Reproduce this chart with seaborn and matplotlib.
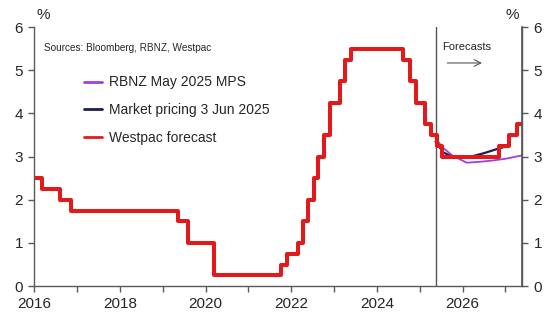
import matplotlib
matplotlib.use("Agg")
import matplotlib.pyplot as plt
import seaborn as sns
import pandas as pd

sns.set_theme(style="white")
plt.rcParams["font.family"] = ["Liberation Sans", "DejaVu Sans"]

# OCR history and Westpac forecast (decimal year, % level) — step series
ocr_dates = [2016.00, 2016.19, 2016.61, 2016.86, 2019.35, 2019.60, 2020.20,
             2021.76, 2021.90, 2022.15, 2022.28, 2022.40, 2022.53, 2022.63,
             2022.76, 2022.90, 2023.14, 2023.26, 2023.39, 2024.62, 2024.77,
             2024.91, 2025.13, 2025.27, 2025.41, 2025.53, 2026.85, 2027.09,
             2027.27, 2027.40]
ocr_values = [2.50, 2.25, 2.00, 1.75, 1.50, 1.00, 0.25,
              0.50, 0.75, 1.00, 1.50, 2.00, 2.50, 3.00,
              3.50, 4.25, 4.75, 5.25, 5.50, 5.25, 4.75,
              4.25, 3.75, 3.50, 3.25, 3.00, 3.25, 3.50,
              3.75, 3.75]

# RBNZ May 2025 MPS projected OCR path
mps_dates = [2025.37, 2025.55, 2025.77, 2026.10, 2026.40, 2026.70, 2027.00, 2027.40]
mps_values = [3.42, 3.20, 3.02, 2.86, 2.88, 2.91, 2.95, 3.03]

# Market pricing as of 3 June 2025
mkt_dates = [2025.37, 2025.55, 2025.75, 2025.95, 2026.20, 2026.50, 2026.85, 2027.10]
mkt_values = [3.35, 3.10, 3.00, 2.97, 3.00, 3.08, 3.19, 3.26]

y_ticks = [0, 1, 2, 3, 4, 5, 6]
x_ticks = [2016, 2018, 2020, 2022, 2024, 2026]
forecast_start = 2025.37

fig = plt.figure(figsize=(5.6, 3.27), dpi=100)
ax = fig.add_axes([0.061, 0.125, 0.872, 0.792])

axis_col = "#5a5a5a"
text_col = "#262626"

sns.lineplot(x=mps_dates, y=mps_values, ax=ax, color="#a23de0", linewidth=1.3,
             label="RBNZ May 2025 MPS")
sns.lineplot(x=mkt_dates, y=mkt_values, ax=ax, color="#1d1d4f", linewidth=1.6,
             label="Market pricing 3 Jun 2025")
sns.lineplot(x=ocr_dates, y=ocr_values, ax=ax, color="#e31a1c", linewidth=2.9,
             drawstyle="steps-post", label="Westpac forecast")

ax.axvline(forecast_start, color="#555555", linewidth=1.0, zorder=0)

ax.set_xlim(2016, 2027.4)
ax.set_ylim(0, 6)
ax.set_xticks(x_ticks)
ax.set_xticks([2017, 2019, 2021, 2023, 2025, 2027], minor=True)
ax.set_yticks(y_ticks)
ax.set_xlabel("")
ax.set_ylabel("")

ax.spines["top"].set_visible(False)
for side in ["left", "right", "bottom"]:
    ax.spines[side].set_color(axis_col)
    ax.spines[side].set_linewidth(1.0)

ax.tick_params(axis="both", which="major", direction="out", length=4, width=1,
               color=axis_col, labelsize=11, labelcolor=text_col, pad=4)
ax.tick_params(axis="x", which="minor", direction="out", length=4, width=1,
               color=axis_col)
ax.tick_params(axis="x", which="both", bottom=True)
ax.tick_params(axis="y", left=True)

ax2 = ax.twinx()
ax2.set_ylim(0, 6)
ax2.set_yticks(y_ticks)
for side in ["top", "left", "bottom"]:
    ax2.spines[side].set_visible(False)
ax2.spines["right"].set_color(axis_col)
ax2.tick_params(axis="y", direction="out", length=4, width=1, color=axis_col,
                labelsize=11, labelcolor=text_col, pad=4)

fig.text(0.066, 0.955, "%", fontsize=11, color=text_col, ha="left", va="center")
fig.text(0.927, 0.955, "%", fontsize=11, color=text_col, ha="right", va="center")

ax.text(0.02, 0.92, "Sources: Bloomberg, RBNZ, Westpac", transform=ax.transAxes,
        fontsize=7.2, color=text_col, ha="left", va="center")

ax.text(2025.52, 5.53, "Forecasts", fontsize=8, color=text_col, ha="left", va="center")
ax.annotate("", xy=(2026.52, 5.17), xytext=(2025.58, 5.17),
            arrowprops=dict(arrowstyle="->", color="#555555", lw=0.8))

leg = ax.legend(loc="upper left", bbox_to_anchor=(0.077, 0.862), frameon=False,
                fontsize=10, handlelength=1.3, handletextpad=0.5,
                labelspacing=0.98, labelcolor=text_col)
for line in leg.get_lines():
    line.set_linewidth(2.0)

fig.savefig("out.png", dpi=100)
